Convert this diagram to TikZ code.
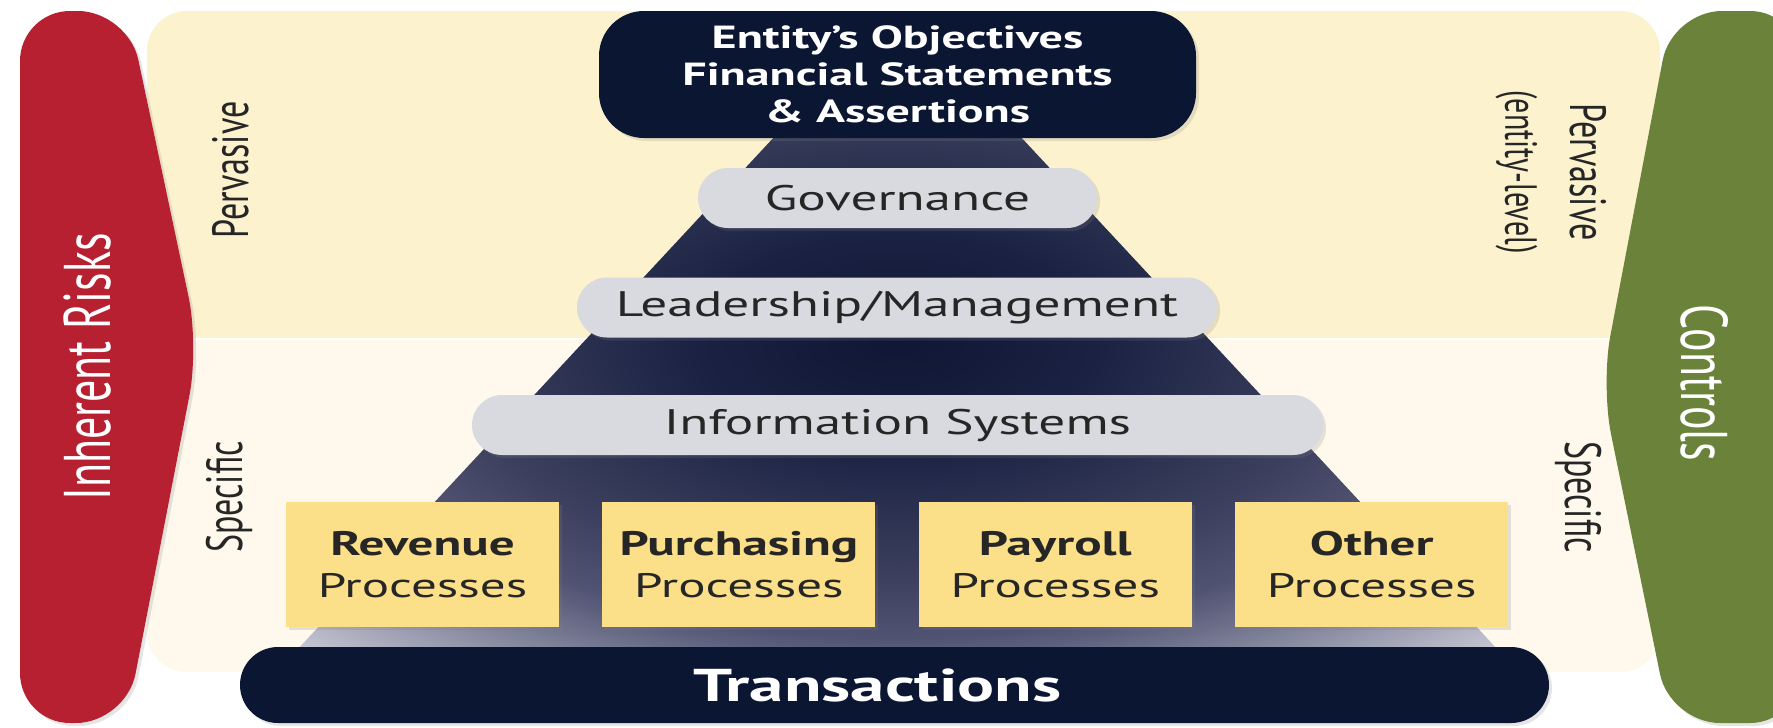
\documentclass[tikz,border=0pt]{standalone}
\usepackage{fontspec}
\setmainfont{PT Sans}
\usetikzlibrary{positioning,shadows}

\definecolor{riskred}{HTML}{B72030}
\definecolor{ctrlgreen}{HTML}{6A823A}
\definecolor{navy}{HTML}{0B1632}
\definecolor{pillgray}{HTML}{D9DAE0}
\definecolor{procyellow}{HTML}{FCE089}
\definecolor{paneltop}{HTML}{FDF2CE}
\definecolor{panelbot}{HTML}{FEF9EC}
\definecolor{inktext}{HTML}{262626}
\definecolor{pyrA}{HTML}{0F1734}
\definecolor{pyrB}{HTML}{1A2142}
\definecolor{pyrC}{HTML}{3C405E}
\definecolor{pyrD}{HTML}{505372}
\definecolor{pyrE}{HTML}{8A8CA2}
\definecolor{pyrF}{HTML}{C4C5D2}

\pgfdeclareradialshading{pyramidshade}{\pgfpointorigin}{color(0bp)=(pyrA); color(12bp)=(pyrB); color(27bp)=(pyrC); color(34bp)=(pyrD); color(42bp)=(pyrE); color(50bp)=(pyrF)}

% the source picture is stretched sideways
\newcommand{\xwide}[1]{\scalebox{1.5}[1]{#1}}
\newcommand{\ytall}[1]{\scalebox{1}[1.5]{#1}}

\begin{document}
\begin{tikzpicture}[x=1pt,y=-1pt,
  softshadow/.style={drop shadow={shadow xshift=3pt, shadow yshift=-3pt, opacity=0.2}},
  pill/.style={fill=pillgray, rounded corners=30pt, minimum height=60pt, inner sep=0pt, text=inktext, font=\fontsize{35.5}{40}\selectfont, softshadow},
  procbox/.style={fill=procyellow, minimum width=273pt, minimum height=125pt, inner sep=0pt, align=center, text=inktext, font=\fontsize{34}{42}\selectfont, softshadow},
  darkbar/.style={fill=navy, text=white, inner sep=0pt, softshadow},
  sidenote/.style={text=inktext, inner sep=0pt, font=\fontsize{34}{40}\selectfont},
  bigside/.style={text=white, inner sep=0pt, font=\fontsize{44}{50}\selectfont}
]
  \useasboundingbox (0,0) rectangle (1773,728);
  \fill[white] (0,0) rectangle (1773,728);
  \clip (0,0) rectangle (1773,728);

  % pale panel, two bands
  \begin{scope}
    \clip[rounded corners=40pt] (147,11) rectangle (1660,672);
    \fill[paneltop] (147,11) rectangle (1660,339);
    \fill[panelbot] (147,339) rectangle (1660,672);
    \draw[white, line width=2pt] (147,339) -- (1660,339);
  \end{scope}

  % side arrows
  \fill[riskred, rounded corners=50pt, softshadow] (20,360) -- (20,11) -- (128,11) -- (199,346) -- (126,723) -- (20,723) -- cycle;
  \fill[ctrlgreen, rounded corners=50pt, softshadow] (1800,400) -- (1800,11) -- (1672,11) -- (1601,385) -- (1670,723) -- (1800,723) -- cycle;

  % pyramid, dark in the middle
  \begin{scope}
    \clip (790,120) -- (1005,120) -- (1496,648) -- (299,648) -- cycle;
    \fill[pyrF] (299,120) rectangle (1496,648);
    \node[inner sep=0pt, xscale=16.55, yscale=8.74, transform shape] (glow) at (897,340) {\pgfuseshading{pyramidshade}};
  \end{scope}

  \node[darkbar, rounded corners=45pt, minimum width=597pt, minimum height=127pt, align=center, font=\bfseries\fontsize{32}{37}\selectfont] (goal) at (897.5,74.5) {\xwide{Entity’s Objectives}\\\xwide{Financial Statements}\\\xwide{\& Assertions}};

  \node[pill, minimum width=399pt] (gov) at (897.5,198) {\xwide{Governance}};
  \node[pill, minimum width=640pt] (lead) at (897,307.5) {\xwide{Leadership/Management}};
  \node[pill, minimum width=851pt] (info) at (897.5,425) {\xwide{Information Systems}};

  \node[procbox] (rev) at (422.5,564.5) {\textbf{\xwide{Revenue}}\\\xwide{Processes}};
  \node[procbox, right=43pt of rev] (purch) {\textbf{\xwide{Purchasing}}\\\xwide{Processes}};
  \node[procbox, right=43pt of purch] (pay) {\textbf{\xwide{Payroll}}\\\xwide{Processes}};
  \node[procbox, right=43pt of pay] (other) {\textbf{\xwide{Other}}\\\xwide{Processes}};

  \node[darkbar, rounded corners=38pt, minimum width=1309pt, minimum height=76pt, font=\bfseries\fontsize{46}{50}\selectfont] (trans) at (894.5,685) {\xwide{Transactions}\hspace*{34pt}};

  % side texts
  \node[bigside, rotate=90] (risk) at (88,367) {\ytall{Inherent Risks}};
  \node[sidenote, rotate=90] (pervL) at (231,170) {\ytall{Pervasive}};
  \node[sidenote, rotate=90] (specL) at (229,497) {\ytall{Specific}};
  \node[sidenote, rotate=-90, align=center, font=\fontsize{34}{65}\selectfont] (pervR) at (1551,172) {\ytall{Pervasive}\\\fontsize{30}{65}\selectfont\ytall{(entity-level)}};
  \node[sidenote, rotate=-90] (specR) at (1579,497) {\ytall{Specific}};
  \node[bigside, rotate=-90] (ctrl) at (1705,383) {\ytall{Controls}};
\end{tikzpicture}
\end{document}
